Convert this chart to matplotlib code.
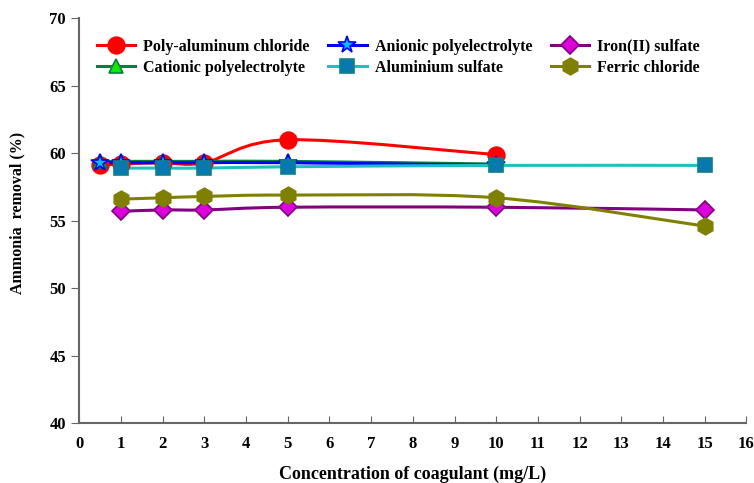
import numpy as np
import matplotlib.pyplot as plt
from matplotlib.path import Path
from matplotlib.patches import PathPatch
from matplotlib.lines import Line2D

plt.rcParams['font.family'] = ['Liberation Serif', 'DejaVu Serif']
plt.rcParams['font.weight'] = 'bold'

# data
pac_x = [0.5, 1, 2, 3, 5, 10]
pac_y = [59.1, 59.2, 59.3, 59.3, 61.0, 59.9]
cat_x = [0.5, 1, 2, 3, 5, 10]
cat_y = [59.4, 59.4, 59.4, 59.4, 59.4, 59.2]
ani_x = [0.5, 1, 2, 3, 5, 10]
ani_y = [59.3, 59.3, 59.3, 59.3, 59.3, 59.1]
als_x = [1, 2, 3, 5, 10, 15]
als_y = [58.9, 58.9, 58.9, 59.0, 59.1, 59.1]
fe2_x = [1, 2, 3, 5, 10, 15]
fe2_y = [55.7, 55.8, 55.8, 56.0, 56.0, 55.8]
fec_x = [1, 2, 3, 5, 10, 15]
fec_y = [56.6, 56.7, 56.8, 56.9, 56.7, 54.6]


def smooth_path(x, y):
    # Catmull-Rom style curve through the points, as bezier segments
    x = np.asarray(x, float)
    y = np.asarray(y, float)
    pts = np.column_stack([x, y])
    n = len(pts)
    verts = [pts[0]]
    codes = [Path.MOVETO]
    for i in range(n - 1):
        p0 = pts[i - 1] if i > 0 else pts[i]
        p1 = pts[i]
        p2 = pts[i + 1]
        p3 = pts[i + 2] if i + 2 < n else pts[i + 1]
        c1 = p1 + (p2 - p0) / 6.0
        c2 = p2 - (p3 - p1) / 6.0
        verts += [c1, c2, p2]
        codes += [Path.CURVE4] * 3
    return Path(verts, codes)


series = [
    (pac_x, pac_y, 'Poly-aluminum chloride', '#ff0000', 'o', '#ff0000', '#ff0000', 12),
    (cat_x, cat_y, 'Cationic polyelectrolyte', '#008040', '^', '#00ee00', '#008040', 10),
    (ani_x, ani_y, 'Anionic polyelectrolyte', '#0000ff', '*', '#00c0ff', '#0000ff', 13),
    (als_x, als_y, 'Aluminium sulfate', '#20c0c0', 's', '#0878b0', '#108080', 10),
    (fe2_x, fe2_y, 'Iron(II) sulfate', '#800080', 'D', '#dd00dd', '#800080', 9),
    (fec_x, fec_y, 'Ferric chloride', '#808000', 'h', '#808000', '#808000', 12),
]

fig = plt.figure(figsize=(7.54, 4.83), dpi=100)
ax = fig.add_axes([0.105, 0.124, 0.885, 0.838])

handles = []
for x, y, label, lc, mk, fc, ec, ms in series:
    ax.add_patch(PathPatch(smooth_path(x, y), fill=False, edgecolor=lc, lw=2.2))
    ax.plot(x, y, linestyle='none', marker=mk, markersize=ms,
            markerfacecolor=fc, markeredgecolor=ec, markeredgewidth=1.2)
    handles.append(Line2D([0], [0], color=lc, lw=2.2, marker=mk, markersize=ms,
                          markerfacecolor=fc, markeredgecolor=ec, markeredgewidth=1.2,
                          label=label))

ax.set_xlim(0, 16)
ax.set_ylim(40, 70)
ax.set_xticks(range(0, 17))
ax.set_yticks(range(40, 71, 5))
ax.tick_params(axis='x', direction='in', length=5, color='#666666', labelsize=12, pad=9)
ax.tick_params(axis='y', direction='out', length=6, color='#666666', labelsize=12)
for s in ['top', 'right']:
    ax.spines[s].set_visible(False)
for s in ['left', 'bottom']:
    ax.spines[s].set_color('#666666')
    ax.spines[s].set_linewidth(1.5)

ax.set_xlabel('Concentration of coagulant (mg/L)', fontsize=13, fontweight='bold', labelpad=10)
ax.set_ylabel('Ammonia  removal (%)', fontsize=11.5, fontweight='bold')
ax.yaxis.set_label_coords(-0.08, 0.52)

ax.legend(handles=handles, ncol=3, frameon=False,
          loc='upper left', bbox_to_anchor=(0.005, 0.985), fontsize=11.5,
          handlelength=2.4, columnspacing=1.17, handletextpad=0.5, labelspacing=0.3)

plt.savefig('out.png', dpi=100)
